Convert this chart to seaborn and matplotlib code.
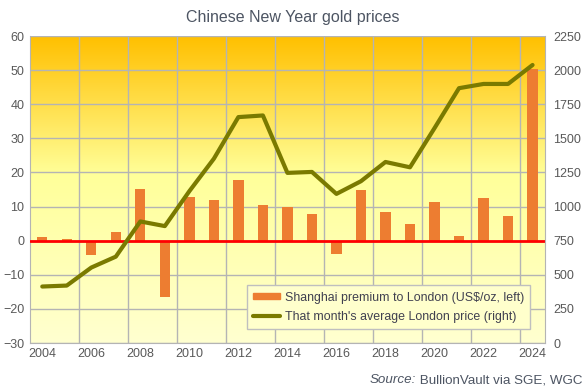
import matplotlib
matplotlib.use("Agg")
import matplotlib.pyplot as plt
import seaborn as sns
import pandas as pd
import numpy as np
from matplotlib.colors import LinearSegmentedColormap
from matplotlib.patches import Patch
from matplotlib.lines import Line2D

# Data
years = list(range(2004, 2025))
premium = [1.1, 0.5, -4.1, 2.6, 15.1, -16.6, 12.8, 11.9, 17.7, 10.4, 10.0,
           7.8, -3.9, 14.8, 8.4, 4.9, 11.3, 1.4, 12.5, 7.2, 50.4]
london = [414, 421, 553, 633, 891, 857, 1113, 1351, 1656, 1668, 1247,
          1254, 1093, 1186, 1327, 1288, 1575, 1868, 1899, 1899, 2038]

df = pd.DataFrame({"Year": years, "Premium": premium, "London": london})

sns.set_style("white")
plt.rcParams["font.family"] = ["Liberation Sans", "DejaVu Sans"]

text_col = "#595959"
bar_col = "#ED7D31"
line_col = "#7A7A00"
grid_col = "#B4B4B4"

fig = plt.figure(figsize=(5.85, 3.92), dpi=100)
ax1 = fig.add_axes([0.0513, 0.125, 0.880, 0.783])

# gradient background
grad = LinearSegmentedColormap.from_list(
    "gold", [(0, "#FFFFD0"), (0.55, "#FFFF99"), (1, "#FFC000")])
ax1.imshow(np.linspace(0, 1, 256).reshape(-1, 1), cmap=grad, origin="lower",
           extent=[0, 1, 0, 1], transform=ax1.transAxes, aspect="auto", zorder=0)

sns.barplot(data=df, x="Year", y="Premium", native_scale=True, color=bar_col,
            width=0.42, saturation=1, linewidth=0, ax=ax1, zorder=2)
ax1.axhline(0, color="#FF0000", lw=2, zorder=3)

ax1.set_xlim(2003.5, 2024.5)
ax1.set_ylim(-30, 60)
ax1.set_yticks(range(-30, 61, 10))
ax1.set_xticks(range(2004, 2025, 2))
ax1.set_xticks(np.arange(2005.5, 2024, 2), minor=True)
ax1.grid(True, axis="y", color=grid_col, lw=1, zorder=1)
ax1.grid(True, axis="x", which="minor", color=grid_col, lw=1, zorder=1)
ax1.set_axisbelow(True)
ax1.tick_params(which="both", length=0, labelsize=9, labelcolor=text_col)
ax1.tick_params(axis="y", pad=4)
ax1.set_xlabel("")
ax1.set_ylabel("")
for side in ["left", "bottom"]:
    ax1.spines[side].set_color(grid_col)
for side in ["top", "right"]:
    ax1.spines[side].set_visible(False)

ax2 = ax1.twinx()
sns.lineplot(data=df, x="Year", y="London", color=line_col, lw=3, ax=ax2)
ax2.set_ylim(0, 2250)
ax2.set_yticks(range(0, 2251, 250))
ax2.tick_params(length=0, labelsize=9, labelcolor=text_col, pad=6)
ax2.set_ylabel("")
ax2.set_xlabel("")
for side in ["left", "top", "bottom"]:
    ax2.spines[side].set_visible(False)
ax2.spines["right"].set_color(grid_col)

handles = [Patch(color=bar_col), Line2D([], [], color=line_col, lw=3)]
labels = ["Shanghai premium to London (US$/oz, left)",
          "That month's average London price (right)"]
leg = ax2.legend(handles, labels, loc="lower right",
                 bbox_to_anchor=(0.984, 0.025), fontsize=8.9, frameon=True,
                 fancybox=False, framealpha=1, facecolor="#FFFFCC",
                 edgecolor="#BFBFBF", handlelength=2.2, handleheight=0.4,
                 labelspacing=0.6, borderpad=0.5, handletextpad=0.4)
for t in leg.get_texts():
    t.set_color("#404050")

fig.text(0.5, 0.955, "Chinese New Year gold prices", ha="center", va="center",
         fontsize=11.5, color="#4D5563")
src1 = fig.text(0.995, 0.03, " BullionVault via SGE, WGC", ha="right",
                va="center", fontsize=9.6, color="#4D5563")
fig.canvas.draw()
bb = src1.get_window_extent().transformed(fig.transFigure.inverted())
fig.text(bb.x0, 0.03, "Source:", ha="right", va="center", fontsize=9.6,
         color="#4D5563", style="italic")

fig.savefig("out.png", dpi=100)
